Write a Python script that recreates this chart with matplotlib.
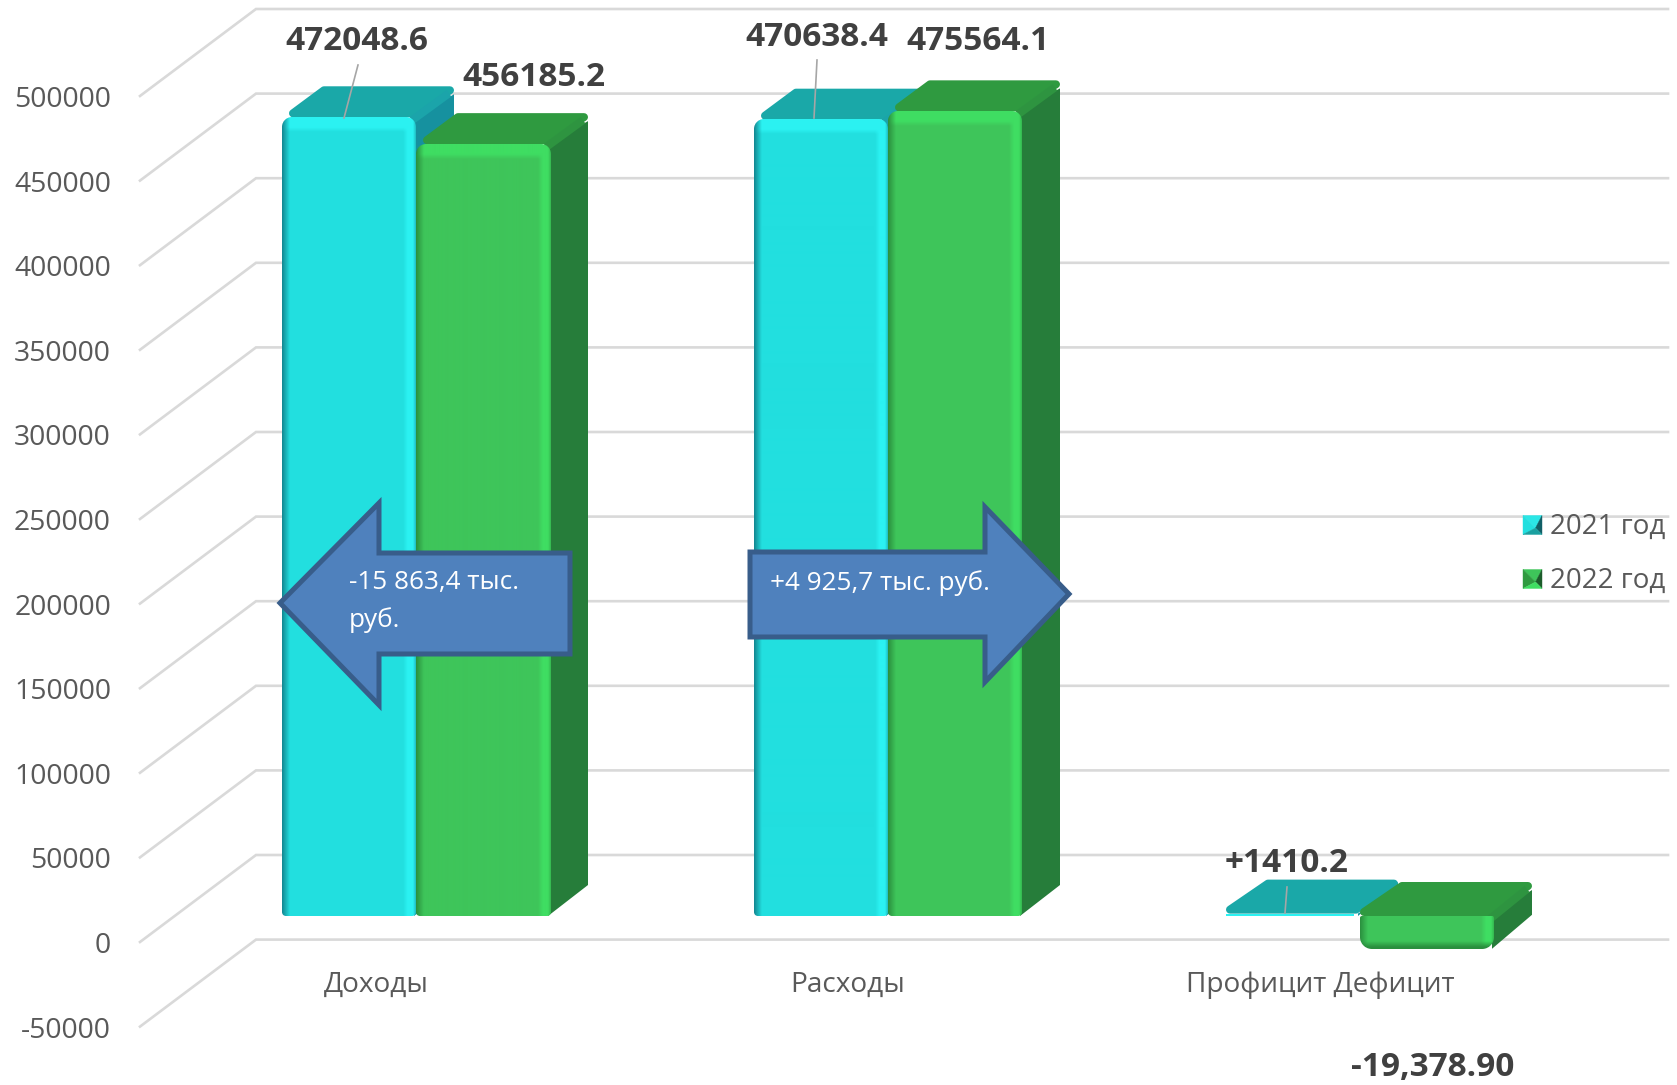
import numpy as np
import matplotlib
matplotlib.use('Agg')
import matplotlib.pyplot as plt
from matplotlib.patches import Polygon
from matplotlib.colors import to_rgb

plt.rcParams['font.family'] = ['Open Sans', 'DejaVu Sans']

categories = ['Доходы', 'Расходы', 'Профицит Дефицит']
values_2021 = [472048.6, 470638.4, 1410.2]
values_2022 = [456185.2, 475564.1, -19378.9]
labels_2021 = ['472048.6', '470638.4', '+1410.2']
labels_2022 = ['456185.2', '475564.1', '-19,378.90']
series_names = ['2021 год', '2022 год']
ticks = [500000, 450000, 400000, 350000, 300000, 250000, 200000, 150000, 100000, 50000, 0, -50000]

W, H = 1677, 1085
X0 = 416       # pixel of first category centre
CAT = 472      # pixels per category
Y0 = 916       # pixel of value 0 on the bar front plane
UNIT = 84.6 / 50000   # pixels per unit
BAR = 134 / CAT


def px(x, y):
    return (x - X0) / CAT, (Y0 - y) / UNIT


def dxp(d):
    return d / CAT


def dyp(d):
    return d / UNIT


def lw(p):
    return p * 0.72


TEAL = dict(face='#22DFDF', dark='#13858F', light='#2BF2F2', top='#1AA8A8', side='#16919F', strip='#1BA4AA')
GREEN = dict(face='#3EC55A', dark='#2A8F3E', light='#3FDD62', top='#2F9A40', side='#267D3A', strip='#2E9440')

fig = plt.figure(figsize=(W / 100, H / 100), dpi=100)
ax = fig.add_axes([0, 0, 1, 1])
ax.axis('off')

# floor and wall grid
for t in ticks:
    xa, ya = px(140, Y0 + 26)
    xb, yb = px(256, Y0 - 61)
    xc, _ = px(1668, 0)
    ax.plot([xa, xb, xc], [t + ya, t + yb, t + yb], color='#D9D9D9', lw=1.9, zorder=1,
            solid_joinstyle='miter')
    ax.text(px(111, 0)[0], t + ya - dyp(4), str(t), ha='right', va='center', fontsize=20.3,
            color='#595959', zorder=6)


def face_image(w, h, c, negative=False):
    w = int(round(w))
    h = max(int(round(h)), 2)
    base = np.array(to_rgb(c['face']))
    dark = np.array(to_rgb(c['dark']))
    light = np.array(to_rgb(c['light']))
    xs = np.arange(w) + 0.5
    ys = np.arange(h) + 0.5
    gx, gy = np.meshgrid(xs, ys)
    img = np.ones((h, w, 4))
    img[..., :3] = base
    # bright bevel on right and top, dark bevel on left
    t = np.clip((gx - (w - 13)) / 5, 0, 1)[..., None]
    img[..., :3] = img[..., :3] * (1 - t) + light * t
    if negative:
        t = np.clip((gy - (h - 8)) / 6, 0, 1)[..., None]
        img[..., :3] = img[..., :3] * (1 - t) + dark * t
    else:
        t = np.clip((gy - 10) / 5, 0, 1)[..., None]
        img[..., :3] = light * (1 - t) + img[..., :3] * t
    t = np.clip(1 - gx / 8, 0, 1)[..., None]
    img[..., :3] = img[..., :3] * (1 - t) + dark * t
    t = np.clip((gx - (w - 3)) / 3, 0, 1)[..., None] * 0.5
    img[..., :3] = img[..., :3] * (1 - t) + dark * t
    # rounded corners through alpha
    r = 2 if negative else min(10, h / 2, w / 2)
    rb = 12 if negative else min(4, h / 2)
    ax_d = np.maximum(np.maximum(r - gx, gx - (w - r)), 0)
    ay_d = np.maximum(r - gy, 0)
    top = np.clip(r + 0.5 - np.hypot(ax_d, ay_d), 0, 1)
    bx_d = np.maximum(np.maximum(rb - gx, gx - (w - rb)), 0)
    by_d = np.maximum(gy - (h - rb), 0)
    bot = np.clip(rb + 0.5 - np.hypot(bx_d, by_d), 0, 1)
    img[..., 3] = top * bot
    return img


def bar3d(x0, value, c, z):
    x1 = x0 + BAR
    hi = max(value, 0)
    lo = min(value, 0)
    small = abs(value) < 50000
    dx = dxp(38)
    dy = dyp(34 if small else 31)
    i = 4
    ix, iy = dxp(i), dyp(i)
    # tall bars have a rounded face corner, so keep the top face off it
    front = ix if small else dxp(11)
    # right side
    ax.add_patch(Polygon([(x1 - dxp(2), hi), (x1 + dx, hi + dy - dyp(8)), (x1 + dx, lo + dy), (x1 - dxp(2), lo)],
                         closed=True, fc=c['side'], ec='none', zorder=z))
    # top face, thick round edge gives the soft corners
    ax.add_patch(Polygon([(x0 + front, hi + iy), (x1 - ix, hi + iy),
                          (x1 + dx - ix, hi + dy - iy), (x0 + dx + ix, hi + dy - iy)],
                         closed=True, fc=c['top'], ec=c['top'], lw=lw(8),
                         joinstyle='round', zorder=z))
    if abs(value) > 5000:
        ax.plot([x1 - dxp(4), x1 + dx - dxp(5)], [hi - dyp(3), hi + dy - dyp(7)],
                color=c['strip'], lw=lw(8), solid_capstyle='butt', zorder=z + 0.1)
    # front face with bevel
    h = (hi - lo) * UNIT
    if h < 6:
        ax.add_patch(Polygon([(x0, hi), (x1 - dxp(6), hi), (x1 - dxp(6), lo), (x0, lo)],
                             closed=True, fc=c['light'], ec='none', zorder=z + 0.2))
    else:
        ax.imshow(face_image(BAR * CAT, h, c, negative=value < 0), extent=(x0, x1, lo, hi),
                  aspect='auto', interpolation='bilinear', zorder=z + 0.2)


for i in range(len(categories)):
    bar3d(i - BAR, values_2021[i], TEAL, 2 + i)
    bar3d(i, values_2022[i], GREEN, 2.5 + i)

# leader lines
for (xa, ya), (xb, yb) in [((358, 65), (344, 118)), ((817, 60), (814, 118)), ((1287, 887), (1285, 913))]:
    pa, pb = px(xa, ya), px(xb, yb)
    ax.plot([pa[0], pb[0]], [pa[1], pb[1]], color='#A6A6A6', lw=1.2, zorder=5.5)

# data labels
label_pos_2021 = [(357, 42), (817, 37), (1287, 863)]
label_pos_2022 = [(534, 77), (978, 42), (1433, 1067)]
for text, p in zip(labels_2021 + labels_2022, label_pos_2021 + label_pos_2022):
    ax.text(*px(*p), text, ha='center', va='center', fontsize=24, fontweight='bold',
            color='#404040', zorder=7)

# category labels
for i, name in enumerate(categories):
    ax.text(i - 40 / CAT, px(0, 985)[1], name, ha='center', va='center', fontsize=20.2,
            color='#595959', zorder=6)

# arrows
arrow_left = [(280, 603), (379, 503), (379, 553), (570, 553), (570, 654), (379, 654), (379, 705)]
arrow_right = [(750, 552), (985, 552), (985, 507), (1069, 594), (985, 682), (985, 637), (750, 637)]
for shape in (arrow_left, arrow_right):
    ax.add_patch(Polygon([px(*q) for q in shape], closed=True, fc='#4F81BD', ec='#385D8A',
                         lw=3.6, joinstyle='miter', zorder=8))
ax.text(*px(349, 583), '-15 863,4 тыс.', ha='left', va='center', fontsize=18.8, color='white', zorder=9)
ax.text(*px(349, 620), 'руб.', ha='left', va='center', fontsize=18.8, color='white', zorder=9)
ax.text(*px(770, 583), '+4 925,7 тыс. руб.', ha='left', va='center', fontsize=18.8, color='white', zorder=9)

# legend with small pyramid keys
key_colors = [('#2BE6E6', '#22DFDF', '#115F66', '#1AA0A0'), ('#3EC55A', '#2F9A40', '#1C5C2B', '#3FDD62')]
for name, cols, yc in zip(series_names, key_colors, (525, 579)):
    l, r, t, b = 1523, 1542, yc - 9.5, yc + 9.5
    m = ((l + r) / 2 + 3, (t + b) / 2 + 3)
    faces = [([(l, t), (r, t), m], cols[0]), ([(l, t), (l, b), m], cols[1]),
             ([(r, t), (r, b), m], cols[2]), ([(l, b), (r, b), m], cols[3])]
    for pts, col in faces:
        ax.add_patch(Polygon([px(*q) for q in pts], closed=True, fc=col, ec=col, lw=0.3, zorder=7))
    ax.text(*px(1550, yc + 2), name, ha='left', va='center', fontsize=20, color='#595959', zorder=7)

ax.set_xlim(px(0, 0)[0], px(W, 0)[0])
ax.set_ylim(px(0, H)[1], px(0, 0)[1])
fig.savefig('out.png', dpi=100, facecolor='white')
